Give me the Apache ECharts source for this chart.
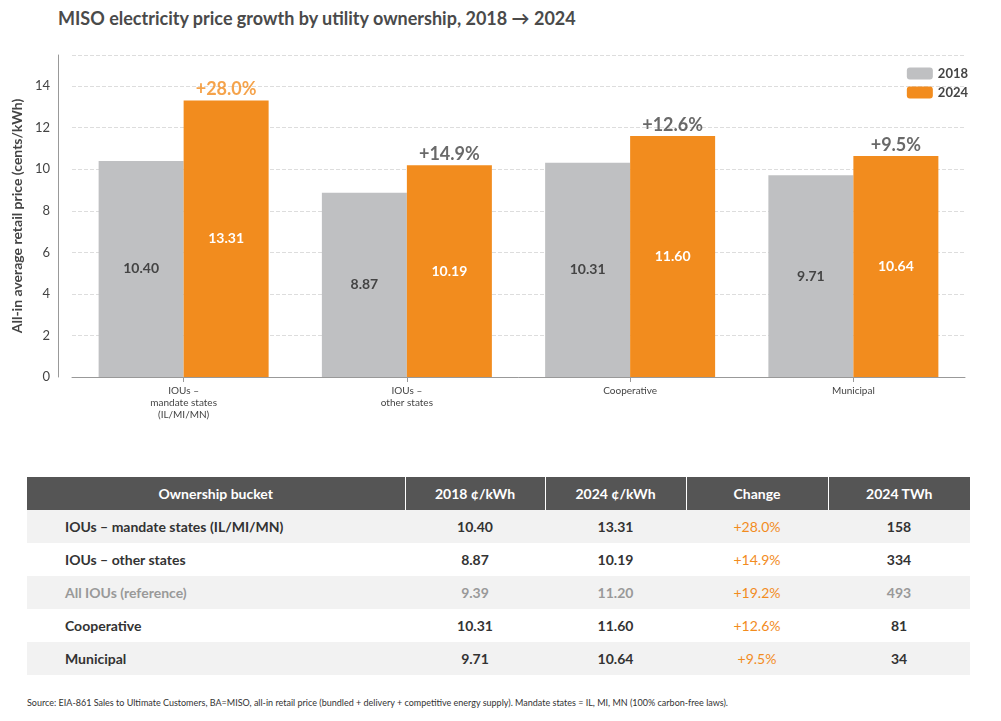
<!DOCTYPE html>
<html><head><meta charset="utf-8">
<script src="https://cdn.jsdelivr.net/npm/echarts@6/dist/echarts.min.js"></script>
<style>
body{margin:0;background:#fff;font-family:Lato,sans-serif;width:1001px;height:721px;overflow:hidden;position:relative}
#title{position:absolute;left:58px;top:7px;font-size:18px;font-weight:bold;color:#4a4a4a}
#chart{position:absolute;left:0;top:30px;width:1001px;height:410px}
table{position:absolute;left:27px;top:477px;width:943px;border-collapse:collapse;font-size:14px;color:#333;table-layout:fixed}
th{background:#555;color:#fff;height:31px;font-weight:bold;border-right:1px solid #fff}
td{height:31px;text-align:center;font-weight:bold}
td:first-child{text-align:left;padding-left:38px}
tr.alt td{background:#f2f2f2}
tr.ref td{color:#999}
td.chg,tr.ref td.chg{color:#f28c1e;font-weight:normal}
#src{position:absolute;left:27px;top:697px;font-size:9px;color:#333}
</style></head><body>
<div id="title">MISO electricity price growth by utility ownership, 2018 → 2024</div>
<div id="chart"></div>
<table id="tbl"><colgroup><col style="width:378px"><col style="width:140px"><col style="width:141px"><col style="width:142px"><col style="width:142px"></colgroup><tbody id="tb"></tbody></table>
<div id="src">Source: EIA-861 Sales to Ultimate Customers, BA=MISO, all-in retail price (bundled + delivery + competitive energy supply). Mandate states = IL, MI, MN (100% carbon-free laws).</div>
<script>
var categories = ['IOUs –\nmandate states\n(IL/MI/MN)', 'IOUs –\nother states', 'Cooperative', 'Municipal'];
var price2018 = [10.40, 8.87, 10.31, 9.71];
var price2024 = [13.31, 10.19, 11.60, 10.64];
var changes = ['+28.0%', '+14.9%', '+12.6%', '+9.5%'];
var yTicks = [0, 2, 4, 6, 8, 10, 12, 14];

var tableBuckets = ['IOUs – mandate states (IL/MI/MN)', 'IOUs – other states', 'All IOUs (reference)', 'Cooperative', 'Municipal'];
var table2018 = ['10.40', '8.87', '9.39', '10.31', '9.71'];
var table2024 = ['13.31', '10.19', '11.20', '11.60', '10.64'];
var tableChange = ['+28.0%', '+14.9%', '+19.2%', '+12.6%', '+9.5%'];
var tableTwh = ['158', '334', '493', '81', '34'];

var chart = echarts.init(document.getElementById('chart'));
chart.setOption({
    textStyle: { fontFamily: 'Lato' },
    legend: {
        right: 28, top: 32, orient: 'vertical', itemWidth: 26, itemHeight: 12, itemGap: 6,
        textStyle: { fontSize: 13, color: '#444', fontWeight: 'bold' },
        data: ['2018', '2024']
    },
    grid: { left: 72, right: 36, top: 25, bottom: 63 },
    xAxis: [{
        type: 'category', data: categories,
        axisTick: { show: true, alignWithLabel: true, lineStyle: { color: '#999' } },
        axisLine: { lineStyle: { color: '#999' } },
        axisLabel: { fontSize: 10, color: '#444', lineHeight: 12 }
    }, {
        type: 'category', data: categories, show: false
    }],
    yAxis: {
        type: 'value', min: 0, max: 15.5, interval: 2, offset: 14,
        name: 'All-in average retail price (cents/kWh)', nameLocation: 'middle', nameGap: 30,
        nameTextStyle: { fontSize: 14, fontWeight: 'bold', color: '#444' },
        axisLine: { show: true, lineStyle: { color: '#999' } },
        axisTick: { show: false },
        axisLabel: { fontSize: 13, color: '#444', customValues: yTicks },
        splitLine: { lineStyle: { color: '#ddd', type: 'dashed' } }
    },
    series: [{
        name: '2018', type: 'bar', barWidth: 85, barGap: '0%',
        itemStyle: { color: '#bfc0c2' },
        label: { show: true, position: 'inside', color: '#444', fontWeight: 'bold', fontSize: 14, formatter: function (p) { return p.value.toFixed(2); } },
        data: price2018
    }, {
        name: '2024', type: 'bar', barWidth: 85,
        itemStyle: { color: '#f28c1e' },
        label: { show: true, position: 'inside', color: '#fff', fontWeight: 'bold', fontSize: 14, formatter: function (p) { return p.value.toFixed(2); } },
        data: price2024
    }, {
        name: 'chg', type: 'scatter', xAxisIndex: 1, symbolSize: 0.1, silent: true,
        data: price2024.map(function (v, i) {
            return {
                value: v,
                label: { show: true, position: 'top', distance: 2, offset: [42.5, 0], fontSize: 18, fontWeight: 'bold', color: i === 0 ? '#f28c1e' : '#444', formatter: changes[i] }
            };
        })
    }]
});

var html = '<tr><th>Ownership bucket</th><th>2018 ¢/kWh</th><th>2024 ¢/kWh</th><th>Change</th><th style="border-right:0">2024 TWh</th></tr>';
tableBuckets.forEach(function (b, i) {
    var cls = (i % 2 === 0 ? 'alt' : '') + (i === 2 ? ' ref' : '');
    html += '<tr class="' + cls + '"><td>' + b + '</td><td>' + table2018[i] + '</td><td>' + table2024[i] + '</td><td class="chg">' + tableChange[i] + '</td><td>' + tableTwh[i] + '</td></tr>';
});
document.getElementById('tb').innerHTML = html;
</script>
</body></html>
